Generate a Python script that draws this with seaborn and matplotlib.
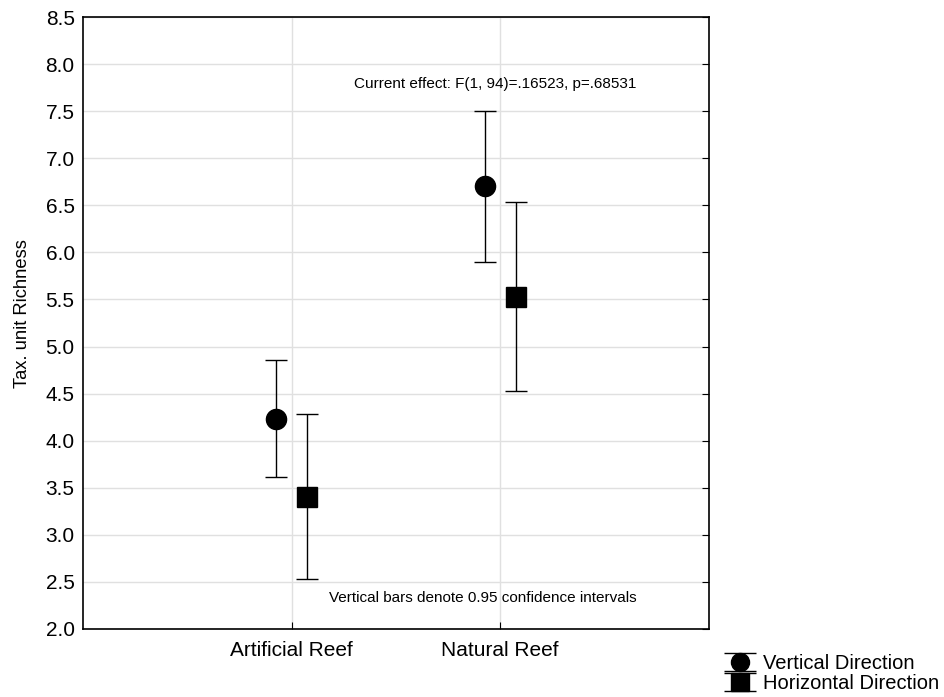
import numpy as np
import matplotlib
matplotlib.use("Agg")
import matplotlib.pyplot as plt
import seaborn as sns
from matplotlib.container import ErrorbarContainer
from matplotlib.legend_handler import HandlerErrorbar

# Values
sites = ["Artificial Reef", "Natural Reef"]
vert_mean = [4.23, 6.71]
vert_lo = [3.61, 5.90]
vert_hi = [4.86, 7.50]
horiz_mean = [3.40, 5.53]
horiz_lo = [2.53, 4.53]
horiz_hi = [4.28, 6.54]
y_ticks = [2.0, 2.5, 3.0, 3.5, 4.0, 4.5, 5.0, 5.5, 6.0, 6.5, 7.0, 7.5, 8.0, 8.5]
series_labels = ["Vertical Direction", "Horizontal Direction"]

sns.set_style("whitegrid", {"grid.color": "#e0e0e0", "axes.edgecolor": "black",
                            "text.color": "black", "axes.labelcolor": "black",
                            "xtick.color": "black", "ytick.color": "black"})
plt.rcParams["font.family"] = ["Liberation Sans", "DejaVu Sans"]

fig = plt.figure(figsize=(9.44, 6.97), dpi=100)
ax = fig.add_axes([0.0879, 0.0976, 0.663, 0.878])

x = np.arange(1, len(sites) + 1)
off = 0.075

def draw(xpos, mean, lo, hi, marker):
    mean = np.array(mean)
    err = [mean - np.array(lo), np.array(hi) - mean]
    ax.errorbar(xpos, mean, yerr=err, fmt=marker, color="black", ms=14.5,
                ecolor="black", elinewidth=1.0, capsize=8, capthick=1.0, zorder=3)

draw(x - off, vert_mean, vert_lo, vert_hi, "o")
draw(x + off, horiz_mean, horiz_lo, horiz_hi, "s")

# legend proxies (wider caps, like the original legend keys)
proxies = []
for m in ["o", "s"]:
    p = ax.errorbar([np.nan], [np.nan], yerr=[[0], [0]], fmt=m, color="black",
                    ms=13, ecolor="black", elinewidth=1.0, capsize=11.5, capthick=1.0)
    proxies.append(p)

ax.set_xlim(0, 3)
ax.set_ylim(2.0, 8.5)
ax.set_xticks(x)
ax.set_xticklabels(sites)
ax.set_yticks(y_ticks)
ax.set_yticklabels([f"{v:.1f}" for v in y_ticks])
ax.set_ylabel("Tax. unit Richness", fontsize=13.2)
ax.yaxis.set_label_coords(-0.083, 0.515)
ax.tick_params(axis="both", labelsize=15, direction="in", length=5, color="black")
ax.tick_params(axis="y", right=True, pad=6)
ax.tick_params(axis="x", bottom=True, pad=9)
for s in ax.spines.values():
    s.set_linewidth(1.2)
    s.set_color("black")
ax.grid(True, linewidth=1.0)

ax.text(0.658, 0.89, "Current effect: F(1, 94)=.16523, p=.68531",
        transform=ax.transAxes, ha="center", va="center", fontsize=11)
ax.text(0.639, 0.051, "Vertical bars denote 0.95 confidence intervals",
        transform=ax.transAxes, ha="center", va="center", fontsize=11)

fig.legend(proxies, series_labels, loc="center left", bbox_to_anchor=(0.770, 0.034),
           frameon=False, fontsize=14.5, handlelength=1.3, handletextpad=0.5,
           labelspacing=0.05, borderpad=0, borderaxespad=0,
           handler_map={ErrorbarContainer: HandlerErrorbar(yerr_size=0.45)})

fig.savefig("out.png", dpi=100)
